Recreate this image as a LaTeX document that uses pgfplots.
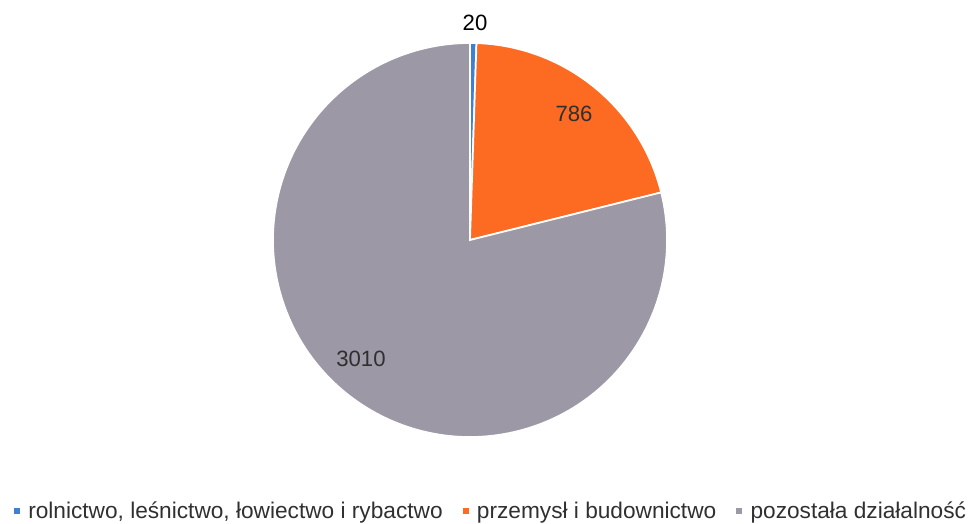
\documentclass[border=0pt]{standalone}
\usepackage{pgfplots}
\usepackage{pgfplotstable}
\pgfplotsset{compat=1.18}
\usepackage{fontspec}
\setmainfont{Liberation Sans}
\definecolor{cA}{HTML}{3F7FD4}
\definecolor{cB}{HTML}{FD6A22}
\definecolor{cC}{HTML}{9D98A5}
\definecolor{txt}{HTML}{303030}

\pgfplotstableread{
value
20
786
3010
}\piedata

\begin{document}
\begin{tikzpicture}
\pgfplotstablegetelem{0}{value}\of\piedata \pgfmathsetmacro{\vA}{\pgfplotsretval}
\pgfplotstablegetelem{1}{value}\of\piedata \pgfmathsetmacro{\vB}{\pgfplotsretval}
\pgfplotstablegetelem{2}{value}\of\piedata \pgfmathsetmacro{\vC}{\pgfplotsretval}
\pgfmathsetmacro{\tot}{\vA+\vB+\vC}
\pgfmathsetmacro{\aA}{90}
\pgfmathsetmacro{\aB}{\aA-\vA/\tot*360}
\pgfmathsetmacro{\aC}{\aB-\vB/\tot*360}
\pgfmathsetmacro{\aD}{\aC-\vC/\tot*360}
\def\R{147.75pt}
\begin{axis}[
  scale only axis, width=726pt, height=393pt,
  xmin=0, xmax=968, ymin=0, ymax=524,
  hide axis, clip=false,
  legend columns=3,
  legend style={draw=none, fill=none, inner sep=0pt, outer sep=0pt,
    at={(axis cs:14,13)}, anchor=west,
    font=\fontsize{17}{19}\selectfont\color{txt},
    nodes={inner xsep=0pt, inner ysep=1pt},
    /tikz/every odd column/.append style={column sep=6.5pt},
    /tikz/every even column/.append style={column sep=15pt}},
  legend image code/.code={\fill[#1] (0pt,-1.9pt) rectangle (3.8pt,2.4pt);},
]
\draw[draw=none] (rel axis cs:0,0) rectangle (rel axis cs:1,1);
\fill[cA, draw=white, line width=1.3pt] (axis cs:470,284) -- ++(\aA:\R) arc[start angle=\aA, end angle=\aB, radius=\R] -- cycle;
\fill[cB, draw=white, line width=1.3pt] (axis cs:470,284) -- ++(\aB:\R) arc[start angle=\aB, end angle=\aC, radius=\R] -- cycle;
\fill[cC, draw=white, line width=1.3pt] (axis cs:470,284) -- ++(\aC:\R) arc[start angle=\aC, end angle=\aD, radius=\R] -- cycle;
\addlegendimage{cA}\addlegendentry{rolnictwo, leśnictwo, łowiectwo i rybactwo}
\addlegendimage{cB}\addlegendentry{przemysł i budownictwo}
\addlegendimage{cC}\addlegendentry{pozostała działalność}
\node[font=\fontsize{16.6}{19}\selectfont, text=black] at (axis cs:475,501) {20};
\node[font=\fontsize{16.6}{19}\selectfont, text=txt] at (axis cs:574,410) {786};
\node[font=\fontsize{16.6}{19}\selectfont, text=txt] at (axis cs:361,165) {3010};
\end{axis}
\end{tikzpicture}
\end{document}
